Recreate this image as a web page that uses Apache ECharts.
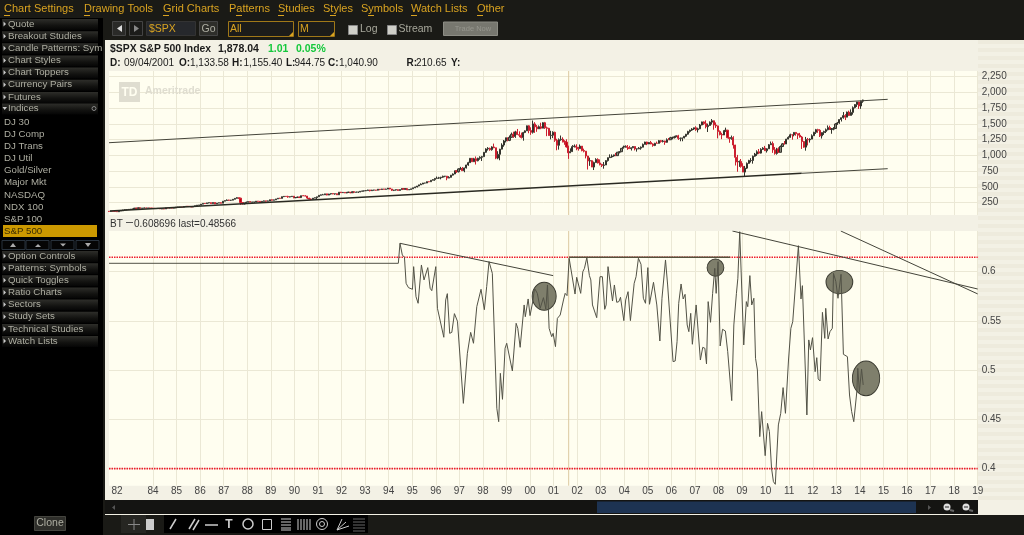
<!DOCTYPE html>
<html>
<head>
<meta charset="utf-8">
<title>$SPX</title>
<script src="https://cdn.jsdelivr.net/npm/echarts@6/dist/echarts.min.js"></script>
<style>
html, body { margin: 0; padding: 0; background: #1a1a16; }
#main { width: 1024px; height: 535px; }
</style>
</head>
<body>
<div id="main"></div>
<script>
// monthly S&P 500, starts 1982-03
var firstOpen = 113;
var closes = [112,116,112,110,107,120,120,134,139,141,
145,148,153,164,162,168,163,164,166,164,166,165,
163,157,159,160,151,153,151,167,166,166,164,167,
180,181,181,180,190,192,191,189,182,190,202,211,
212,227,239,235,247,251,236,253,231,244,249,242,
274,284,292,288,290,304,319,330,322,252,230,247,
257,268,259,261,262,274,272,262,272,279,274,278,
297,289,295,310,321,318,346,351,349,340,346,353,
329,332,340,331,361,358,356,323,306,304,322,330,
344,367,375,375,390,371,388,395,388,392,375,417,
409,413,404,415,415,408,424,414,418,419,431,436,
439,443,452,440,450,451,448,464,459,468,462,466,
482,467,446,451,457,444,458,475,463,472,454,459,
470,487,500,515,533,545,562,562,584,582,605,616,
636,640,645,654,669,671,640,652,687,705,757,741,
786,791,757,801,848,885,954,899,947,915,955,970,
980,1049,1102,1112,1091,1134,1121,957,1017,1099,1164,1229,
1280,1238,1286,1335,1302,1373,1329,1320,1283,1363,1389,1469,
1394,1366,1499,1452,1421,1455,1431,1518,1437,1429,1315,1320,
1366,1240,1160,1249,1256,1224,1211,1134,1041,1060,1139,1148,
1130,1107,1147,1077,1067,990,912,916,815,886,936,880,
856,841,848,917,964,975,990,1008,996,1051,1058,1112,
1131,1145,1126,1107,1121,1141,1102,1104,1115,1130,1174,1212,
1181,1204,1181,1157,1192,1191,1234,1220,1229,1207,1249,1248,
1280,1281,1295,1311,1270,1270,1277,1304,1336,1378,1401,1418,
1438,1407,1421,1482,1531,1503,1455,1474,1527,1549,1481,1468,
1379,1331,1323,1386,1400,1280,1267,1283,1165,969,896,903,
826,735,798,873,919,919,987,1021,1057,1036,1096,1115,
1074,1104,1169,1187,1089,1031,1102,1049,1141,1183,1181,1258,
1286,1327,1326,1364,1345,1321,1292,1219,1131,1253,1247,1258,
1312,1366,1408,1398,1310,1362,1379,1407,1441,1412,1416,1426,
1498,1515,1569,1598,1631,1606,1686,1633,1682,1757,1806,1848,
1783,1859,1878];
var highs = [113,119,119,114,112,120,124,137,143,144,
146,150,153,164,166,171,171,166,173,172,168,170,
170,164,160,162,161,156,155,169,169,168,170,170,
181,184,184,184,190,195,196,192,189,191,203,212,
214,227,240,245,248,251,253,254,254,244,251,255,
276,285,302,297,294,306,323,337,329,329,255,247,
268,269,272,264,263,274,274,272,272,283,279,283,
298,300,298,310,323,327,346,353,350,360,347,354,
355,336,345,345,361,368,370,356,327,317,324,332,
345,370,379,390,391,391,391,396,397,393,397,417,
421,420,416,417,423,416,425,425,426,423,432,441,
443,450,456,451,454,453,451,464,464,470,469,471,
483,482,469,453,459,462,461,477,477,474,475,465,
472,488,503,515,534,557,564,565,586,587,608,622,
638,665,660,660,679,674,674,670,690,714,758,762,
795,818,815,805,851,898,955,942,961,983,963,986,
992,1051,1113,1131,1123,1145,1187,1121,1066,1104,1192,1244,
1280,1282,1316,1362,1376,1390,1419,1382,1361,1373,1397,1473,
1478,1445,1553,1527,1481,1475,1518,1525,1531,1456,1437,1390,
1383,1376,1263,1269,1315,1287,1240,1255,1155,1111,1163,1173,
1176,1131,1173,1147,1107,1068,993,965,925,901,955,954,
936,868,895,925,965,1016,1016,1012,1040,1053,1063,1112,
1155,1159,1164,1151,1127,1147,1142,1108,1132,1142,1188,1217,
1217,1212,1229,1192,1199,1219,1245,1245,1244,1233,1270,1276,
1295,1297,1310,1318,1326,1284,1280,1306,1340,1390,1407,1432,
1441,1462,1439,1498,1535,1540,1556,1504,1539,1576,1521,1523,
1471,1396,1359,1397,1440,1404,1292,1314,1304,1167,1008,919,
943,876,833,888,930,957,997,1039,1080,1101,1114,1130,
1150,1113,1180,1220,1220,1132,1120,1129,1158,1196,1228,1262,
1303,1344,1333,1369,1371,1346,1357,1308,1230,1293,1277,1270,
1333,1374,1420,1422,1415,1363,1391,1426,1475,1471,1434,1448,
1510,1530,1570,1598,1687,1654,1694,1709,1730,1776,1813,1849,
1850,1867,1883];
var lows = [105,111,111,107,107,102,118,120,132,130,
134,141,147,152,160,160,160,159,163,161,162,163,
160,154,153,156,150,149,147,150,163,162,162,162,
163,177,176,178,178,187,188,187,181,181,189,200,
203,209,225,232,233,239,232,233,228,232,242,240,
242,272,282,278,277,288,302,316,308,216,224,223,
242,255,258,254,248,259,264,256,262,271,264,272,
276,287,287,292,308,317,317,339,342,328,335,342,
320,322,331,327,331,356,351,307,301,294,303,322,
309,343,364,372,372,367,370,379,384,377,375,372,
404,408,403,400,410,401,405,414,412,404,417,426,
426,433,441,429,437,441,441,445,447,457,460,460,
465,463,436,435,442,442,446,457,460,461,449,450,
459,468,481,493,511,531,544,555,560,575,580,605,
597,633,627,621,643,654,606,639,650,681,703,723,
729,773,756,733,793,836,881,899,899,855,905,931,
912,980,1041,1076,1074,1075,1114,940,939,923,1095,1137,
1205,1223,1226,1281,1277,1278,1329,1287,1268,1233,1353,1387,
1351,1326,1346,1357,1374,1420,1415,1431,1420,1305,1314,1254,
1274,1214,1081,1091,1232,1204,1168,1124,945,1037,1055,1125,
1082,1075,1106,1064,1048,952,776,834,815,768,884,872,
841,815,789,847,902,963,962,978,988,996,1032,1061,
1112,1124,1088,1107,1077,1113,1079,1060,1099,1090,1128,1173,
1163,1180,1177,1137,1147,1191,1194,1202,1205,1168,1202,1245,
1245,1254,1268,1290,1245,1224,1224,1270,1290,1327,1360,1387,
1403,1389,1364,1416,1477,1484,1428,1371,1471,1489,1407,1436,
1270,1317,1257,1324,1374,1272,1200,1248,1107,840,741,818,
805,735,667,784,879,888,869,978,992,1020,1029,1086,
1071,1045,1105,1170,1040,1011,1011,1040,1050,1132,1173,1180,
1256,1292,1249,1302,1312,1259,1282,1102,1121,1075,1158,1203,
1259,1310,1340,1358,1292,1267,1325,1354,1396,1403,1343,1398,
1426,1485,1501,1537,1582,1560,1605,1627,1633,1646,1746,1768,
1737,1738,1834];

// BT study
var btYears = [1982.13,1994.41,1994.48,1994.58,1994.67,1994.74,1994.84,1995.01,1995.06,1995.16,1995.25,1995.39,1995.50,1995.57,1995.66,1995.76,1995.83,1996.00,1996.07,1996.15,1996.34,1996.42,1996.49,1996.59,1996.68,1996.79,1996.92,1997.00,1997.17,1997.34,1997.48,1997.60,1997.74,1997.92,1998.06,1998.16,1998.26,1998.40,1998.59,1998.67,1998.74,1998.83,1998.94,1999.01,1999.25,1999.41,1999.48,1999.58,1999.75,1999.80,1999.92,2000.00,2000.12,2000.19,2000.31,2000.43,2000.57,2000.67,2000.74,2000.81,2000.92,2000.98,2001.08,2001.16,2001.28,2001.42,2001.49,2001.57,
2001.66,2001.74,2001.91,2001.98,2002.15,2002.24,2002.31,2002.41,2002.52,2002.58,2002.65,2002.73,2002.83,2002.97,2003.07,2003.17,2003.23,2003.31,2003.50,2003.58,2003.68,2003.77,2003.84,2003.98,2004.06,2004.16,2004.26,2004.42,2004.50,2004.60,2004.71,2004.81,2004.90,2005.00,2005.07,2005.24,2005.38,2005.51,2005.60,2005.75,2005.84,2005.93,2005.99,2006.07,2006.16,2006.24,2006.31,2006.41,2006.50,2006.58,2006.67,2006.74,2006.82,2006.89,2007.05,2007.13,2007.23,2007.33,2007.42,2007.49,2007.56,2007.66,2007.75,2007.84,2007.90,2007.98,2008.07,2008.17,2008.29,2008.39,2008.56,2008.65,2008.76,2008.82,2008.90,2009.07,2009.18,2009.24,2009.33,2009.41,2009.50,2009.57,2009.65,2009.75,2009.83,2009.98,2010.08,2010.16,2010.25,2010.33,2010.41,
2010.54,2010.64,2010.74,2010.84,2010.97,2011.07,2011.15,2011.39,2011.50,2011.56,2011.75,2011.83,2011.90,2011.99,2012.10,2012.17,2012.23,2012.31,2012.41,2012.51,2012.55,2012.65,2012.73,2012.83,2012.88,2012.98,2013.07,2013.20,2013.30,2013.47,2013.56,2013.65,2013.74,2013.87,2013.91,2013.98,2014.07,2014.14];
var btValues = [.6085,.6085,.6288,.6169,.6146,.5882,.5838,.5821,.6051,.5746,.5679,.6068,.5916,.5933,.6041,.5831,.5807,.6051,.5628,.5611,.5334,.5713,.5777,.5374,.5384,.5574,.5496,.5496,.4663,.5171,.5384,.5273,.5645,.5821,.5614,.5848,.6102,.5983,.4613,.4477,.4968,.4704,.5222,.5273,.4992,.5476,.5425,.5232,.5662,.5543,.5723,.5554,.5702,.5831,.5780,.5628,.5736,.5621,.5865,.5425,.5340,.5374,.5239,.5526,.5560,.5713,.5780,.5757,
.6136,.6136,.5773,.5943,.5780,.6000,.6034,.6142,.5960,.5916,.5662,.5652,.5533,.5949,.5949,.5618,.5662,.6051,.5702,.5865,.5689,.5696,.5740,.5503,.5713,.5797,.5503,.5882,.5949,.6136,.6075,.5730,.5679,.6041,.5669,.5892,.5662,.5296,.5730,.6119,.5865,.5560,.5543,.5087,.5093,.5290,.5679,.5875,.5723,.5770,.5459,.5391,.5577,.5263,.5662,.5652,.5103,.5232,.5222,.5063,.5696,.5486,.5780,.6034,.5780,.6102,.5246,.5415,.5398,.5188,.4691,.5459,.5780,.5933,.6406,.5256,.5696,.5645,.5960,.5662,.5730,.5120,.5002,.4325,.4579,.4132,.4460,.4376,.4004,.3868,.3841,
.4444,.4562,.4823,.4562,.5103,.5425,.5493,.6264,.5723,.5858,.4545,.5307,.5205,.5330,.4985,.5127,.4911,.4890,.5587,.5323,.5628,.5317,.5391,.5425,.5983,.5899,.5730,.5973,.5161,.5137,.4748,.4579,.4477,.4782,.5019,.4782,.5012,.4850];

// trendlines (start, end)
var channelHighYears = [1982.13, 2015.18];
var channelHighValues = [1201, 1889];
var channelLowYears = [1982.17, 2011.53];
var channelLowValues = [118, 716];
var channelLowEndYears = [2011.53, 2015.18];
var channelLowEndValues = [716, 789];
var trendAYears = [1994.48, 2000.98];
var trendAValues = [.6288, .5960];
var trendFlatYears = [2001.66, 2008.49];
var trendFlatValues = [.6146, .6146];
var trendBYears = [2008.59, 2019];
var trendBValues = [.6413, .5824];
var trendCYears = [2013.19, 2019];
var trendCValues = [.6413, .5774];

// circles drawn on the study
var ellipseYears = [2000.60, 2007.87, 2013.13, 2014.26];
var ellipseValues = [.5750, .6041, .5895, .4917];

var redLines = [.6146, .4];
var crossYear = 2001.64;

// axes
var yearTicks = [1984,1985,1986,1987,1988,1989,1990,1991,1992,1993,1994,1995,1996,1997,1998,1999,2000,2001,2002,2003,2004,2005,2006,2007,2008,2009,2010,2011,2012,2013,2014,2015,2016,2017,2018,2019];
var yearLabels = [1982.47].concat(yearTicks);
var priceTicks = [250,500,750,1000,1250,1500,1750,2000,2250];
var btTicks = [.4,.45,.5,.55,.6];

var X_MIN = 1982.13, X_MAX = 2019;

function pairs(xs, ys) {
    return xs.map(function (x, i) { return [x, ys[i]]; });
}

// candles: x, open, close, low, high
var candles = closes.map(function (c, i) {
    return [X_MIN + i / 12, i === 0 ? firstOpen : closes[i - 1], c, lows[i], highs[i]];
});

var FONT = '"Liberation Sans", Arial, sans-serif';
var gfx = [];

function box(x, y, w, h, fill, stroke, z) {
    gfx.push({
        type: 'rect', silent: true, z: z === undefined ? -5 : z,
        shape: { x: x, y: y, width: w, height: h },
        style: { fill: fill || 'none', stroke: stroke || 'none', lineWidth: 1 }
    });
}
function txt(x, y, s, color, size, bold, align) {
    gfx.push({
        type: 'text', silent: true, z: 20, x: x, y: y,
        style: {
            text: s, fill: color,
            font: (bold ? 'bold ' : '') + size + 'px ' + FONT,
            align: align || 'left', verticalAlign: 'middle'
        }
    });
}
function tri(points, fill) {
    gfx.push({ type: 'polygon', silent: true, z: 20, shape: { points: points }, style: { fill: fill } });
}
function seg(x1, y1, x2, y2, color, width) {
    gfx.push({
        type: 'line', silent: true, z: 20,
        shape: { x1: x1, y1: y1, x2: x2, y2: y2 },
        style: { stroke: color, lineWidth: width || 1 }
    });
}

// chart chrome background
box(0, 18, 103, 517, '#000', null, -6);
box(105, 40, 919, 475, '#f3f1e5');
var stripe;
for (stripe = 40; stripe < 500; stripe += 8) {
    box(978, stripe, 46, 4, '#eeebdd', null, -4);
}

// top menu
var GOLD = '#d9a321';
var menu = [['Chart Settings', 4, 0], ['Drawing Tools', 84, 0], ['Grid Charts', 163, 0], ['Patterns', 229, 7], ['Studies', 278, 0], ['Styles', 323, 7], ['Symbols', 361, 7], ['Watch Lists', 411, 0], ['Other', 477, 0]];
menu.forEach(function (m) {
    txt(m[1], 9, m[0], GOLD, 11);
    box(m[1] + m[2], 15, 6, 1, GOLD, null, 21);
});

// sidebar
var GREY = '#aeaea2';
function sideBar(label, y, open) {
    gfx.push({
        type: 'rect', silent: true, z: -4,
        shape: { x: 2, y: y - 5, width: 96, height: 11 },
        style: {
            fill: new echarts.graphic.LinearGradient(0, 0, 0, 1, [
                { offset: 0, color: '#2e2e2a' }, { offset: 0.6, color: '#121210' }, { offset: 1, color: '#050505' }
            ])
        }
    });
    if (open) {
        tri([[2.5, y - 1.5], [7, y - 1.5], [4.7, y + 1.5]], '#ccc');
    } else {
        tri([[3.5, y - 2.5], [6, y], [3.5, y + 2.5]], '#ccc');
    }
    txt(8, y, label, GREY, 9.7);
}
var sideTop = ['Quote', 'Breakout Studies', 'Candle Patterns: Sym', 'Chart Styles', 'Chart Toppers', 'Currency Pairs', 'Futures'];
sideTop.forEach(function (s, i) { sideBar(s, 24 + i * 12.15); });
sideBar('Indices', 108.5, true);
gfx.push({ type: 'circle', silent: true, z: 20, shape: { cx: 94, cy: 108.5, r: 2 }, style: { fill: 'none', stroke: '#888', lineWidth: 1 } });
var indices = ['DJ 30', 'DJ Comp', 'DJ Trans', 'DJ Util', 'Gold/Silver', 'Major Mkt', 'NASDAQ', 'NDX 100', 'S&P 100'];
indices.forEach(function (s, i) { txt(4, 122 + i * 12.15, s, GREY, 9.7); });
box(3, 225, 94, 12, '#cc9900');
txt(4, 231, 'S&P 500', '#3a2c00', 9.7);
[2, 26, 51, 76].forEach(function (x) { box(x, 240.5, 23, 9, '#050505', '#28323c', -4); });
tri([[10, 247], [13, 243], [16, 247]], '#aaa');
tri([[35, 247], [38, 244], [41, 247]], '#aaa');
tri([[60, 243.5], [63, 246.5], [66, 243.5]], '#aaa');
tri([[85, 243], [88, 247], [91, 243]], '#aaa');
var sideBottom = ['Option Controls', 'Patterns: Symbols', 'Quick Toggles', 'Ratio Charts', 'Sectors', 'Study Sets', 'Technical Studies', 'Watch Lists'];
sideBottom.forEach(function (s, i) { sideBar(s, 256 + i * 12.15); });
box(34.5, 516.5, 31, 14, '#2e2e2a', '#44443e');
txt(50, 523.5, 'Clone', GREY, 10.5, false, 'center');

// toolbar
box(112.5, 21.5, 13, 14, '#2a2a28', '#444');
tri([[122, 25], [122, 32], [117, 28.5]], '#ddd');
box(129.5, 21.5, 13, 14, '#1c1c1a', '#444');
tri([[134, 25], [134, 32], [139, 28.5]], '#888');
box(146.5, 21.5, 49, 14, '#26282c', '#333');
txt(149, 29, '$SPX', GOLD, 10.5);
box(199.5, 21.5, 18, 14, '#2e2e2a', '#444');
txt(208.5, 29, 'Go', GREY, 10.5, false, 'center');
box(228.5, 21.5, 65, 15, '#1c1c1a', '#a07818');
txt(230, 29, 'All', GOLD, 10.5);
tri([[293, 36], [293, 32], [289, 36]], GOLD);
box(298.5, 21.5, 36, 15, '#1c1c1a', '#a07818');
txt(300, 29, 'M', GOLD, 10.5);
tri([[334, 36], [334, 32], [330, 36]], GOLD);
box(348.5, 25.5, 9, 9, '#cfcfc8', '#888');
txt(360, 29, 'Log', '#a8a89c', 10.5);
box(387.5, 25.5, 9, 9, '#cfcfc8', '#888');
txt(398.5, 29, 'Stream', '#a8a89c', 10.5);
box(443.5, 22, 54, 13.5, '#77776f', '#8c8c84');
txt(473, 29, 'Trade Now', '#96968e', 7.5, false, 'center');

// header lines
txt(110, 49.5, '$SPX S&P 500 Index', '#1a1a1a', 10.4, true);
txt(218, 49.5, '1,878.04', '#1a1a1a', 10.5, true);
txt(268, 49.5, '1.01', '#14c83c', 10.5, true);
txt(296, 49.5, '0.05%', '#14c83c', 10.5, true);
var quote = [['D:', 110, true], ['09/04/2001', 124], ['O:', 179, true], ['1,133.58', 190], ['H:', 232, true], ['1,155.40', 243.5], ['L:', 286, true], ['944.75', 294.5], ['C:', 328, true], ['1,040.90', 339], ['R:', 406.5, true], ['210.65', 416], ['Y:', 451, true]];
quote.forEach(function (q) { txt(q[1], 63.5, q[0], '#1a1a1a', 10, q[2]); });

// BT legend
txt(110, 224, 'BT', '#333', 10);
box(126, 222, 7, 1, '#555', null, 21);
txt(134, 224, '0.608696 last=0.48566', '#333', 10);

// watermark
box(119, 82, 21, 20, '#dfddd0', null, 1);
txt(129.5, 92.5, 'TD', '#fffef0', 12, true, 'center');
txt(145, 91, 'Ameritrade', '#dfddd0', 10.5, true);

// scrollbar
box(105, 500, 873, 14, '#141412');
box(597, 501.5, 319, 11.5, '#1d3352');
tri([[115, 505], [115, 510], [112, 507.5]], '#555');
tri([[928, 505], [928, 510], [931, 507.5]], '#555');
[947, 966].forEach(function (x) {
    gfx.push({ type: 'circle', silent: true, z: 20, shape: { cx: x, cy: 507, r: 3.5 }, style: { fill: '#ddd' } });
    seg(x - 2, 507, x + 2, 507, '#222');
    seg(x + 3, 510, x + 7, 511, '#666', 2);
});

// drawing toolbar
box(121, 515, 25, 18, '#262622');
box(164, 515, 204, 18, '#000');
seg(134, 519, 134, 530, '#888');
seg(128, 524.5, 140, 524.5, '#888');
box(146, 519, 8, 11, '#ccc', null, 21);
seg(170, 529, 176, 519, '#ccc', 1.5);
seg(189, 529, 195, 519, '#ccc', 1.5);
seg(193, 530, 199, 520, '#ccc', 1.5);
seg(205, 525, 218, 525, '#ccc', 1.5);
txt(229, 524.5, 'T', '#ccc', 12, true, 'center');
gfx.push({ type: 'circle', silent: true, z: 20, shape: { cx: 248, cy: 524, r: 5 }, style: { fill: 'none', stroke: '#ccc', lineWidth: 1.5 } });
box(262.5, 519.5, 9, 10, null, '#ccc', 21);
[519, 522, 525, 528, 530].forEach(function (y) { seg(281, y, 291, y, '#ccc'); });
[298, 301, 304, 307, 310].forEach(function (x) { seg(x, 519, x, 530, '#ccc'); });
gfx.push({ type: 'circle', silent: true, z: 20, shape: { cx: 322, cy: 524, r: 5.5 }, style: { fill: 'none', stroke: '#ccc', lineWidth: 1 } });
gfx.push({ type: 'circle', silent: true, z: 20, shape: { cx: 322, cy: 524, r: 2.5 }, style: { fill: 'none', stroke: '#ccc', lineWidth: 1 } });
seg(337, 530, 342, 519, '#ccc');
seg(337, 530, 346, 522, '#ccc');
seg(337, 530, 349, 526, '#ccc');
[519, 522, 525, 528, 531].forEach(function (y) { seg(353, y, 365, y, '#666'); });

var GRIDLINE = '#ebe8d5';
var AXIS_COLOR = '#444';
var RED_LEVEL = { color: '#ee1c2c', width: 1.6, type: [1.5, 1] };

var option = {
    animation: false,
    backgroundColor: '#1a1a16',
    tooltip: { show: false },
    graphic: { elements: gfx },
    grid: [
        { left: 109, top: 71, width: 868.7, height: 144, show: true, backgroundColor: '#fffef0', borderWidth: 0 },
        { left: 109, top: 231, width: 868.7, height: 254.7, show: true, backgroundColor: '#fffef0', borderWidth: 0 }
    ],
    xAxis: [
        {
            type: 'value', gridIndex: 0, min: X_MIN, max: X_MAX,
            axisLine: { show: false },
            axisTick: { show: false, customValues: yearTicks },
            axisLabel: { show: false },
            splitLine: { show: true, lineStyle: { color: GRIDLINE, width: 1 } }
        },
        {
            type: 'value', gridIndex: 1, min: X_MIN, max: X_MAX,
            axisLine: { show: false },
            axisTick: { show: false, customValues: yearTicks },
            axisLabel: {
                show: true, customValues: yearLabels, margin: 1, hideOverlap: false,
                color: AXIS_COLOR, fontSize: 10, fontFamily: FONT,
                formatter: function (v) {
                    var yy = Math.floor(v) % 100;
                    return yy < 10 ? '0' + yy : String(yy);
                }
            },
            splitLine: { show: true, lineStyle: { color: GRIDLINE, width: 1 } }
        }
    ],
    yAxis: [
        {
            type: 'value', gridIndex: 0, position: 'right', min: 55, max: 2338,
            axisLine: { show: false },
            axisTick: { show: false, customValues: priceTicks },
            axisLabel: {
                show: true, customValues: priceTicks, margin: 4, hideOverlap: false,
                color: AXIS_COLOR, fontSize: 10, fontFamily: FONT,
                formatter: function (v) { return v.toLocaleString('en-US'); }
            },
            splitLine: { show: true, lineStyle: { color: GRIDLINE, width: 1 } }
        },
        {
            type: 'value', gridIndex: 1, position: 'right', min: 0.3827, max: 0.6413,
            axisLine: { show: false },
            axisTick: { show: false, customValues: btTicks },
            axisLabel: {
                show: true, customValues: btTicks, margin: 4, hideOverlap: false,
                color: AXIS_COLOR, fontSize: 10, fontFamily: FONT,
                formatter: function (v) { return String(v); }
            },
            splitLine: { show: true, lineStyle: { color: GRIDLINE, width: 1 } }
        }
    ],
    series: [
        // crosshair
        { type: 'line', xAxisIndex: 0, yAxisIndex: 0, symbol: 'none', z: 1, data: [[crossYear, 55], [crossYear, 2338]], lineStyle: { color: '#dcc9a0', width: 1 } },
        { type: 'line', xAxisIndex: 1, yAxisIndex: 1, symbol: 'none', z: 1, data: [[crossYear, 0.3827], [crossYear, 0.6413]], lineStyle: { color: '#dcc9a0', width: 1 } },
        // price
        {
            type: 'candlestick', xAxisIndex: 0, yAxisIndex: 0, barWidth: 1.6, data: candles, z: 3,
            itemStyle: { color: '#8a8a7c', color0: '#c40012', borderColor: '#33332c', borderColor0: '#cc2030', borderWidth: 1 }
        },
        { type: 'line', xAxisIndex: 0, yAxisIndex: 0, symbol: 'none', z: 4, data: pairs(channelHighYears, channelHighValues), lineStyle: { color: '#44443a', width: 1 } },
        { type: 'line', xAxisIndex: 0, yAxisIndex: 0, symbol: 'none', z: 4, data: pairs(channelLowYears, channelLowValues), lineStyle: { color: '#2a2a22', width: 1.4 } },
        { type: 'line', xAxisIndex: 0, yAxisIndex: 0, symbol: 'none', z: 4, data: pairs(channelLowEndYears, channelLowEndValues), lineStyle: { color: '#44443a', width: 1 } },
        // red levels
        { type: 'line', xAxisIndex: 1, yAxisIndex: 1, symbol: 'none', z: 2, data: [[X_MIN, redLines[0]], [X_MAX, redLines[0]]], lineStyle: RED_LEVEL },
        { type: 'line', xAxisIndex: 1, yAxisIndex: 1, symbol: 'none', z: 2, data: [[X_MIN, redLines[1]], [X_MAX, redLines[1]]], lineStyle: RED_LEVEL },
        // circled spots
        {
            type: 'scatter', xAxisIndex: 1, yAxisIndex: 1, z: 3, symbol: 'circle',
            data: pairs(ellipseYears, ellipseValues),
            symbolSize: function (v, p) { return [[24, 28], [16.7, 17.3], [26.7, 23.3], [27.3, 34.7]][p.dataIndex]; },
            itemStyle: { color: '#7f7f6c', opacity: 1, borderColor: '#3a3a30', borderWidth: 1 }
        },
        // study
        { type: 'line', xAxisIndex: 1, yAxisIndex: 1, symbol: 'none', z: 4, data: pairs(btYears, btValues), lineStyle: { color: '#525246', width: 1 } },
        { type: 'line', xAxisIndex: 1, yAxisIndex: 1, symbol: 'none', z: 5, data: pairs(trendAYears, trendAValues), lineStyle: { color: '#44443a', width: 1 } },
        { type: 'line', xAxisIndex: 1, yAxisIndex: 1, symbol: 'none', z: 5, data: pairs(trendFlatYears, trendFlatValues), lineStyle: { color: '#55503a', width: 1.5 } },
        { type: 'line', xAxisIndex: 1, yAxisIndex: 1, symbol: 'none', z: 5, data: pairs(trendBYears, trendBValues), lineStyle: { color: '#44443a', width: 1 } },
        { type: 'line', xAxisIndex: 1, yAxisIndex: 1, symbol: 'none', z: 5, data: pairs(trendCYears, trendCValues), lineStyle: { color: '#44443a', width: 1 } }
    ]
};

var myChart = echarts.init(document.getElementById('main'));
option && myChart.setOption(option);
</script>
</body>
</html>
